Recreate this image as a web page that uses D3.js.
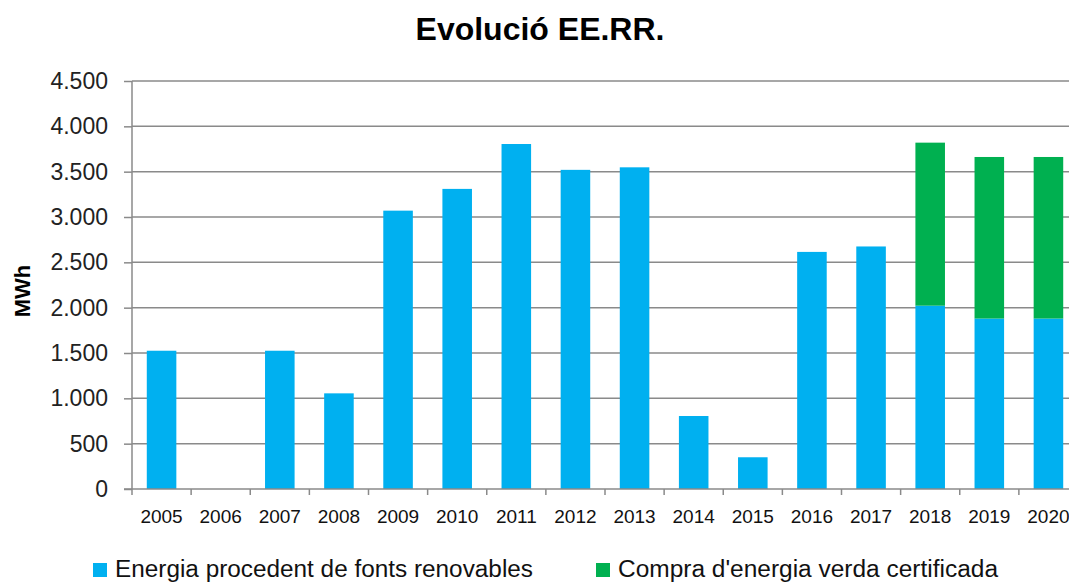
<!DOCTYPE html>
<html lang="ca">
<head>
<meta charset="UTF-8"/>
<title>Evolució EE.RR.</title>
<script src="https://d3js.org/d3.v7.min.js"></script>
<style>
    body { margin: 0; background: #fff; }
    svg { display: block; font-family: "Liberation Sans", Arial, sans-serif; }
</style>
</head>
<body>
<div id="chart"></div>
<script>
    // Chart data
    const years = ["2005", "2006", "2007", "2008", "2009", "2010", "2011", "2012",
                   "2013", "2014", "2015", "2016", "2017", "2018", "2019", "2020"];
    const renovables = [1525, 0, 1525, 1055, 3070, 3310, 3805, 3520,
                        3548, 805, 350, 2615, 2675, 2022, 1880, 1880];
    const verda = [0, 0, 0, 0, 0, 0, 0, 0,
                   0, 0, 0, 0, 0, 1798, 1782, 1782];
    const yTicks = [0, 500, 1000, 1500, 2000, 2500, 3000, 3500, 4000, 4500];
    const seriesNames = ["Energia procedent de fonts renovables", "Compra d'energia verda certificada"];
    const colors = ["#00B0F0", "#00B050"];

    const w = 1069, h = 582;
    const margin = { top: 81, left: 132, bottom: 93 };
    const plotRight = 1078;   // plot area runs past the right edge as in the original

    const svg = d3.select("#chart").append("svg")
        .attr("width", w)
        .attr("height", h);

    const x = d3.scaleBand()
        .domain(years)
        .range([margin.left, plotRight])
        .paddingInner(0.5)
        .paddingOuter(0.25);

    const y = d3.scaleLinear()
        .domain([0, 4500])
        .range([h - margin.bottom, margin.top]);

    const fmt = d => d3.format(",")(d).replace(/,/g, ".");

    // Gridlines
    svg.append("g")
        .selectAll("line")
        .data(yTicks.filter(d => d > 0))
        .join("line")
        .attr("x1", margin.left)
        .attr("x2", plotRight)
        .attr("y1", d => y(d))
        .attr("y2", d => y(d))
        .attr("stroke", "#8a8a8a")
        .attr("stroke-width", 1.5);

    // Stacked bars
    const rows = years.map((yr, i) => ({ year: yr, renovables: renovables[i], verda: verda[i] }));
    const stack = d3.stack().keys(["renovables", "verda"])(rows);

    svg.append("g")
        .selectAll("g")
        .data(stack)
        .join("g")
        .attr("fill", (d, i) => colors[i])
        .selectAll("rect")
        .data(d => d.filter(p => p[1] - p[0] > 0))
        .join("rect")
        .attr("x", d => x(d.data.year))
        .attr("width", x.bandwidth())
        .attr("y", d => y(d[1]))
        .attr("height", d => y(d[0]) - y(d[1]));

    // Y axis
    const yAxis = svg.append("g")
        .attr("transform", `translate(${margin.left},0)`)
        .call(d3.axisLeft(y).tickValues(yTicks).tickFormat(fmt).tickSize(8).tickPadding(16));
    yAxis.selectAll("line, path").attr("stroke", "#8a8a8a").attr("stroke-width", 1.5);
    yAxis.select(".domain").attr("d", `M0,${y(4500)}V${y(0)}`);
    yAxis.selectAll("text")
        .attr("font-size", 23)
        .attr("fill", "#222")
        .attr("font-family", "'Liberation Sans', Arial, sans-serif");

    // X axis (ticks between categories)
    const xAxisG = svg.append("g")
        .attr("transform", `translate(0,${y(0)})`);
    xAxisG.append("line")
        .attr("x1", margin.left - 8)
        .attr("x2", plotRight)
        .attr("stroke", "#8a8a8a")
        .attr("stroke-width", 1.5);
    xAxisG.selectAll(".tick-mark")
        .data(years)
        .join("line")
        .attr("class", "tick-mark")
        .attr("x1", d => x(d) - x.step() * 0.25)
        .attr("x2", d => x(d) - x.step() * 0.25)
        .attr("y1", 0)
        .attr("y2", 6)
        .attr("stroke", "#8a8a8a")
        .attr("stroke-width", 1.5);
    xAxisG.selectAll(".year-label")
        .data(years)
        .join("text")
        .attr("class", "year-label")
        .attr("x", d => x(d) + x.bandwidth() / 2)
        .attr("y", 34)
        .attr("text-anchor", "middle")
        .attr("font-size", 19)
        .attr("fill", "#111")
        .text(d => d);

    // Title
    svg.append("text")
        .attr("x", 540)
        .attr("y", 40)
        .attr("text-anchor", "middle")
        .attr("font-size", 32)
        .attr("font-weight", "bold")
        .text("Evolució EE.RR.");

    // Y axis label
    svg.append("text")
        .attr("transform", "rotate(-90)")
        .attr("x", -291)
        .attr("y", 30)
        .attr("text-anchor", "middle")
        .attr("font-size", 22)
        .attr("font-weight", "bold")
        .text("MWh");

    // Legend
    const legendX = [93, 596];
    const legendW = [418, 380];
    const legend = svg.append("g")
        .selectAll("g")
        .data(seriesNames)
        .join("g")
        .attr("transform", (d, i) => `translate(${legendX[i]},563)`);
    legend.append("rect")
        .attr("width", 14)
        .attr("height", 14)
        .attr("fill", (d, i) => colors[i]);
    legend.append("text")
        .attr("x", 22)
        .attr("y", 14)
        .attr("font-size", 23)
        .attr("fill", "#111")
        .attr("textLength", (d, i) => legendW[i])
        .attr("lengthAdjust", "spacingAndGlyphs")
        .text(d => d);
</script>
</body>
</html>
